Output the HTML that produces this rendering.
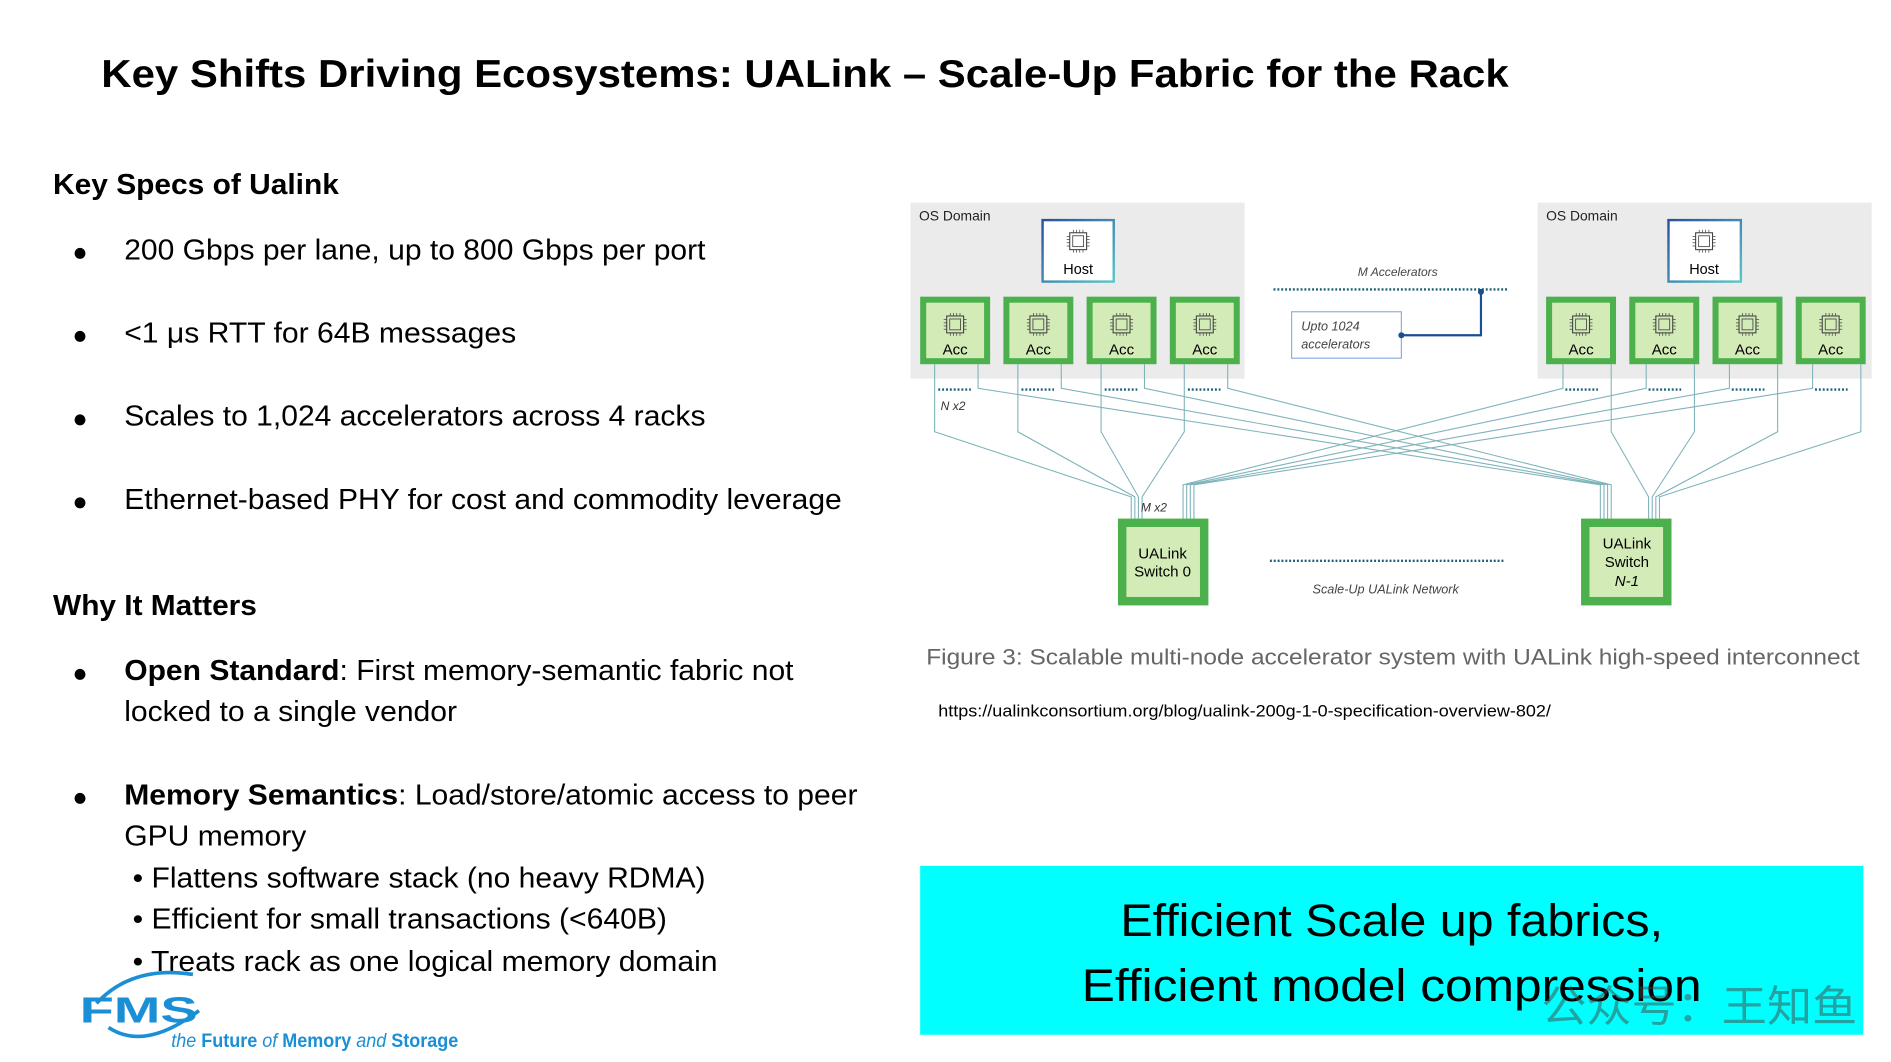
<!DOCTYPE html>
<html><head><meta charset="utf-8"><style>
html,body{margin:0;padding:0;background:#fff;width:1891px;height:1062px;overflow:hidden}
svg{display:block}
</style></head><body>
<svg width="1891" height="1062" viewBox="0 0 1568 880.6" xmlns="http://www.w3.org/2000/svg" font-family="'Liberation Sans', Arial, sans-serif">
<defs>
<g id="chip"><rect x="-7" y="-7" width="14" height="14" fill="none" stroke="#444" stroke-width="0.9"/><rect x="-4.5" y="-4.5" width="9" height="9" fill="none" stroke="#444" stroke-width="0.7"/>
<path d="M-4 -7v-2.5M-1.3 -7v-2.5M1.3 -7v-2.5M4 -7v-2.5M-4 7v2.5M-1.3 7v2.5M1.3 7v2.5M4 7v2.5M-7 -4h-2.5M-7 -1.3h-2.5M-7 1.3h-2.5M-7 4h-2.5M7 -4h2.5M7 -1.3h2.5M7 1.3h2.5M7 4h2.5" stroke="#444" stroke-width="0.6"/></g>
<g id="acc"><rect x="0" y="0" width="58" height="56" fill="#4cb04c"/><rect x="5" y="5" width="48" height="46" fill="#d3ebb7"/><use href="#chip" x="29" y="23"/></g>
<linearGradient id="hg" x1="0" y1="0" x2="1" y2="1"><stop offset="0" stop-color="#2b4f9c"/><stop offset="1" stop-color="#5cc6c9"/></linearGradient>
</defs>

<text x="84" y="72" font-size="32.5" font-weight="bold" fill="#000" textLength="1167" lengthAdjust="spacingAndGlyphs">Key Shifts Driving Ecosystems: UALink – Scale-Up Fabric for the Rack</text>

<text x="44" y="161" font-size="23.5" font-weight="bold" textLength="237" lengthAdjust="spacingAndGlyphs">Key Specs of Ualink</text>
<g font-size="23.5">
<text x="60" y="216" font-size="21">●</text><text x="103" y="215" textLength="482" lengthAdjust="spacingAndGlyphs">200 Gbps per lane, up to 800 Gbps per port</text>
<text x="60" y="285" font-size="21">●</text><text x="103" y="284" textLength="325" lengthAdjust="spacingAndGlyphs">&lt;1 μs RTT for 64B messages</text>
<text x="60" y="354" font-size="21">●</text><text x="103" y="353" textLength="482" lengthAdjust="spacingAndGlyphs">Scales to 1,024 accelerators across 4 racks</text>
<text x="60" y="423" font-size="21">●</text><text x="103" y="422" textLength="595" lengthAdjust="spacingAndGlyphs">Ethernet-based PHY for cost and commodity leverage</text>
</g>
<text x="44" y="510" font-size="23.5" font-weight="bold" textLength="169" lengthAdjust="spacingAndGlyphs">Why It Matters</text>
<g font-size="23.5">
<text x="60" y="565" font-size="21">●</text><text x="103" y="564" textLength="555" lengthAdjust="spacingAndGlyphs"><tspan font-weight="bold">Open Standard</tspan>: First memory-semantic fabric not</text>
<text x="103" y="598" textLength="276" lengthAdjust="spacingAndGlyphs">locked to a single vendor</text>
<text x="60" y="668" font-size="21">●</text><text x="103" y="667" textLength="608" lengthAdjust="spacingAndGlyphs"><tspan font-weight="bold">Memory Semantics</tspan>: Load/store/atomic access to peer</text>
<text x="103" y="701" textLength="151" lengthAdjust="spacingAndGlyphs">GPU memory</text>
<text x="110" y="736" textLength="475" lengthAdjust="spacingAndGlyphs">• Flattens software stack (no heavy RDMA)</text>
<text x="110" y="770" textLength="443" lengthAdjust="spacingAndGlyphs">• Efficient for small transactions (&lt;640B)</text>
<text x="110" y="805" textLength="485" lengthAdjust="spacingAndGlyphs">• Treats rack as one logical memory domain</text>
</g>

<!-- FMS logo -->
<path d="M80 832 Q110 800 160 808" fill="none" stroke="#1a8fd6" stroke-width="3"/>
<path d="M90 852 Q120 872 165 838" fill="none" stroke="#1a8fd6" stroke-width="3"/>
<text x="66" y="848" font-size="30" font-weight="bold" fill="#1a8fd6" textLength="98" lengthAdjust="spacingAndGlyphs">FMS</text>
<text x="142" y="868" font-size="16" fill="#1a8fd6" textLength="238" lengthAdjust="spacingAndGlyphs"><tspan font-style="italic">the </tspan><tspan font-weight="bold">Future </tspan><tspan font-style="italic">of </tspan><tspan font-weight="bold">Memory </tspan><tspan font-style="italic">and </tspan><tspan font-weight="bold">Storage</tspan></text>

<!-- diagram -->
<rect x="755" y="168" width="277" height="146" fill="#ebebeb"/>
<rect x="1275" y="168" width="277" height="146" fill="#ebebeb"/>
<text x="762" y="183" font-size="11.5" fill="#222">OS Domain</text>
<text x="1282" y="183" font-size="11.5" fill="#222">OS Domain</text>
<rect x="864.5" y="182.5" width="59" height="51" fill="#fff" stroke="url(#hg)" stroke-width="2"/>
<use href="#chip" x="894" y="200"/><text x="894" y="227" font-size="12" text-anchor="middle">Host</text>
<rect x="1383.5" y="182.5" width="60" height="51" fill="#fff" stroke="url(#hg)" stroke-width="2"/>
<use href="#chip" x="1413" y="200"/><text x="1413" y="227" font-size="12" text-anchor="middle">Host</text>

<g fill="none" stroke="#7fb3bb" stroke-width="0.9">
<path d="M775 302V358L938 412V430M844 302V358L941 412V430M913 302V358L944 412V430M982 302V358L947 412V430"/>
<path d="M811 302V322L1327 402V430M880 302V322L1330 402V430M949 302V322L1333 402V430M1018 302V322L1336 402V430"/>
<path d="M1296 302V322L981 402V430M1365 302V322L984 402V430M1434 302V322L987 402V430M1503 302V322L990 402V430"/>
<path d="M1336 302V358L1367 412V430M1405 302V358L1370 412V430M1474 302V358L1373 412V430M1543 302V358L1376 412V430"/>
</g>

<use href="#acc" x="763" y="246"/><use href="#acc" x="832" y="246"/><use href="#acc" x="901" y="246"/><use href="#acc" x="970" y="246"/>
<use href="#acc" x="1282" y="246"/><use href="#acc" x="1351" y="246"/><use href="#acc" x="1420" y="246"/><use href="#acc" x="1489" y="246"/>
<g font-size="12.5" text-anchor="middle">
<text x="792" y="294">Acc</text><text x="861" y="294">Acc</text><text x="930" y="294">Acc</text><text x="999" y="294">Acc</text>
<text x="1311" y="294">Acc</text><text x="1380" y="294">Acc</text><text x="1449" y="294">Acc</text><text x="1518" y="294">Acc</text>
</g>

<g stroke="#1d5f78" stroke-width="2" stroke-dasharray="1.6 1.6">
<path d="M778 323H805M847 323H874M916 323H943M985 323H1012M1298 323H1325M1367 323H1394M1436 323H1463M1505 323H1532"/>
<path d="M1056 240H1250M1053 465H1247"/>
</g>
<text x="780" y="340" font-size="10" font-style="italic" fill="#333">N x2</text>
<text x="946" y="424" font-size="10" font-style="italic" fill="#333">M x2</text>
<text x="1159" y="229" font-size="10" font-style="italic" fill="#444" text-anchor="middle">M Accelerators</text>
<rect x="1071" y="258.5" width="91" height="38.5" fill="#fff" stroke="#8fb0e0" stroke-width="1"/>
<text x="1079" y="274" font-size="10.5" font-style="italic" fill="#444">Upto 1024</text>
<text x="1079" y="289" font-size="10.5" font-style="italic" fill="#444">accelerators</text>
<path d="M1162 278H1228V241" fill="none" stroke="#1a4f8f" stroke-width="1.8"/>
<circle cx="1162" cy="278" r="2.5" fill="#1a4f8f"/><circle cx="1228" cy="242" r="2.5" fill="#1a4f8f"/>
<text x="1149" y="492" font-size="10.5" font-style="italic" fill="#444" text-anchor="middle">Scale-Up UALink Network</text>

<rect x="927" y="430" width="75" height="72" fill="#4cb04c"/><rect x="934" y="437" width="61" height="58" fill="#d3ebb7"/>
<text x="964" y="463" font-size="12.5" text-anchor="middle">UALink</text><text x="964" y="478" font-size="12.5" text-anchor="middle">Switch 0</text>
<rect x="1311" y="430" width="75" height="72" fill="#4cb04c"/><rect x="1318" y="437" width="61" height="58" fill="#d3ebb7"/>
<text x="1349" y="455" font-size="12.5" text-anchor="middle">UALink</text><text x="1349" y="470" font-size="12.5" text-anchor="middle">Switch</text><text x="1349" y="486" font-size="12.5" font-style="italic" text-anchor="middle">N-1</text>

<text x="768" y="551" font-size="18.5" fill="#666" textLength="774" lengthAdjust="spacingAndGlyphs">Figure 3: Scalable multi-node accelerator system with UALink high-speed interconnect</text>
<text x="778" y="594" font-size="13.5" fill="#000" textLength="508" lengthAdjust="spacingAndGlyphs">https://ualinkconsortium.org/blog/ualink-200g-1-0-specification-overview-802/</text>

<rect x="763" y="718" width="782" height="140" fill="#00ffff"/>
<text x="1154" y="776" font-size="38" text-anchor="middle" textLength="450" lengthAdjust="spacingAndGlyphs">Efficient Scale up fabrics,</text>
<text x="1154" y="830" font-size="38" text-anchor="middle" textLength="514" lengthAdjust="spacingAndGlyphs">Efficient model compression</text>
<text x="1278" y="847" font-size="36" fill="rgba(70,70,70,0.5)" font-family="'Noto Sans CJK SC', sans-serif" textLength="262" lengthAdjust="spacingAndGlyphs">公众号：王知鱼</text>
</svg>
</body></html>
